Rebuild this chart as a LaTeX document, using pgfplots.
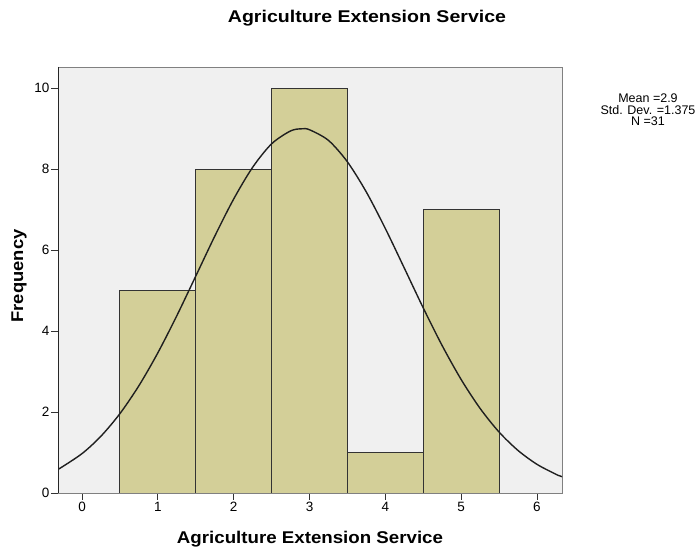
\documentclass[border=0pt]{standalone}
\usepackage{pgfplots}
\pgfplotsset{compat=1.18}
\usepackage{fontspec}
\setmainfont{Liberation Sans}
\definecolor{barfill}{RGB}{211,207,152}
\definecolor{bgc}{RGB}{240,240,240}
\definecolor{framec}{RGB}{128,128,128}
\begin{document}
\begin{tikzpicture}
\useasboundingbox (0pt,0pt) rectangle (699pt,548pt);
\begin{axis}[
  at={(58pt,55pt)}, anchor=south west,
  scale only axis, width=504pt, height=426pt,
  xmin=-0.317, xmax=6.33, ymin=0, ymax=10.52,
  xtick={0,1,2,3,4,5,6}, ytick={0,2,4,6,8,10},
  tick align=outside, major tick length=7pt,
  tick style={black!80, line width=0.9pt},
  xtick pos=bottom, ytick pos=left,
  axis background/.style={fill=bgc},
  axis line style={draw=framec, line width=0.9pt},
  ticklabel style={font=\fontsize{13.5}{15}\selectfont},
  /pgf/number format/assume math mode=true,
  xticklabel style={yshift=1pt},
  yticklabel style={xshift=2pt},
]
\addplot[ybar interval, fill=barfill, draw=black!80, line width=0.9pt] coordinates {
(0.5,5) (1.5,8) (2.5,10) (3.5,1) (4.5,7) (5.5,7)};
\addplot[smooth, draw=black!88, line width=1.4pt] coordinates {
(-0.35,0.56) (-0.3,0.600) (0,0.973) (0.25,1.404) (0.5,1.961) (0.75,2.649) (1.0,3.462)
(1.25,4.378) (1.5,5.356) (1.75,6.340) (2.0,7.260) (2.25,8.043) (2.5,8.622)
(2.75,8.941) (2.9,8.994) (3.0,8.970) (3.25,8.707) (3.5,8.177) (3.75,7.430)
(4.0,6.531) (4.25,5.555) (4.5,4.570) (4.75,3.638) (5.0,2.802) (5.25,2.088)
(5.5,1.505) (5.75,1.050) (6.0,0.708) (6.25,0.462) (6.3,0.423) (6.35,0.39)};
\draw[black!85, line width=0.9pt] (rel axis cs:0,1) -- (rel axis cs:0,0) -- (rel axis cs:1,0);
\end{axis}
\node[font=\bfseries\fontsize{17}{19}\selectfont] at (367pt,530pt) {\scalebox{1.15}[1]{Agriculture Extension Service}};
\node[font=\bfseries\fontsize{17}{19}\selectfont] at (310pt,9pt) {\scalebox{1.1}[1]{Agriculture Extension Service}};
\node[font=\bfseries\fontsize{17}{19}\selectfont, rotate=90] at (19pt,272pt) {\scalebox{1.08}[1]{Frequency}};
\node[font=\fontsize{12.5}{11.5}\selectfont, align=center, inner sep=0pt] at (648pt,438pt) {Mean =2.9\\Std. Dev. =1.375\\N =31};
\end{tikzpicture}
\end{document}
